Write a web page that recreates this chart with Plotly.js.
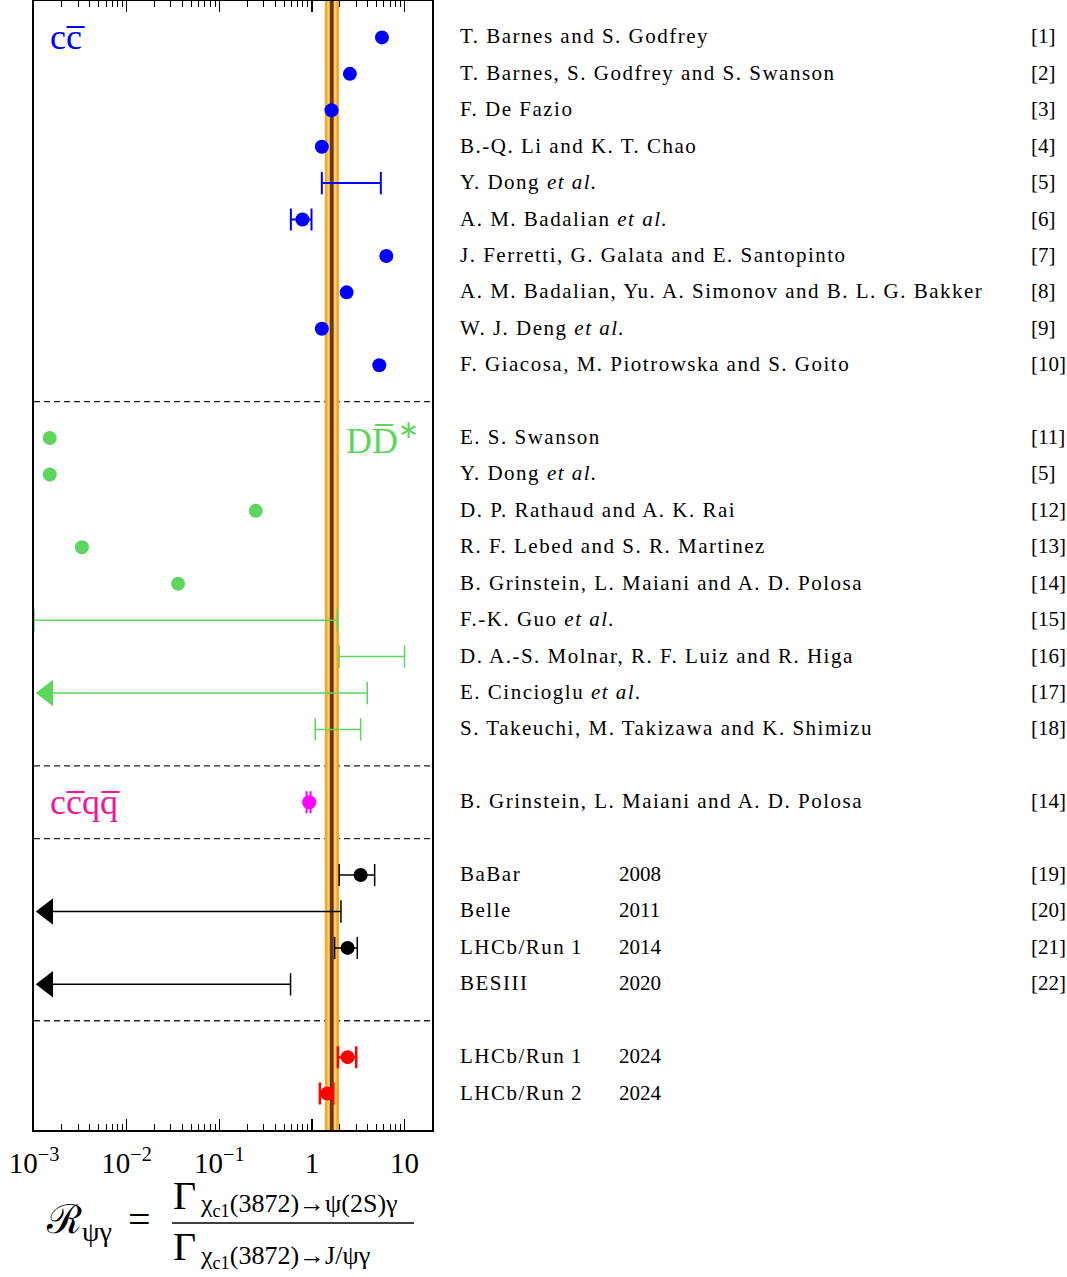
<!DOCTYPE html>
<html><head><meta charset="utf-8">
<script src="https://cdn.plot.ly/plotly-3.0.1.min.js"></script>
<style>body{margin:0;background:#fff}</style>
</head><body><div id="chart" style="width:1067px;height:1277px"></div>
<script>
// ---------------- DATA ----------------
// Theory: charmonium (c c-bar)
const ccAuthors = ["T. Barnes and S. Godfrey","T. Barnes, S. Godfrey and S. Swanson","F. De Fazio","B.-Q. Li and K. T. Chao","Y. Dong <i>et al.</i>","A. M. Badalian <i>et al.</i>","J. Ferretti, G. Galata and E. Santopinto","A. M. Badalian, Yu. A. Simonov and B. L. G. Bakker","W. J. Deng <i>et al.</i>","F. Giacosa, M. Piotrowska and S. Goito"];
const ccRefs = ["[1]","[2]","[3]","[4]","[5]","[6]","[7]","[8]","[9]","[10]"];
const ccValue = [5.71, 2.57, 1.63, 1.28, null, 0.79, 6.36, 2.37, 1.28, 5.34];
const ccLow   = [null, null, null, null, 1.28, 0.593, null, null, null, null];
const ccHigh  = [null, null, null, null, 5.55, 0.99, null, null, null, null];
const ccLimit = [false,false,false,false,false,false,false,false,false,false];

// Theory: D D-bar* molecule
const ddAuthors = ["E. S. Swanson","Y. Dong <i>et al.</i>","D. P. Rathaud and A. K. Rai","R. F. Lebed and S. R. Martinez","B. Grinstein, L. Maiani and A. D. Polosa","F.-K. Guo <i>et al.</i>","D. A.-S. Molnar, R. F. Luiz and R. Higa","E. Cincioglu <i>et al.</i>","S. Takeuchi, M. Takizawa and K. Shimizu"];
const ddRefs = ["[11]","[5]","[12]","[13]","[14]","[15]","[16]","[17]","[18]"];
const ddValue = [0.00148, 0.00148, 0.248, 0.00329, 0.0359, null, null, null, null];
const ddLow   = [null, null, null, null, null, 0.001, 1.97, null, 1.086];
const ddHigh  = [null, null, null, null, null, 1.88, 10.0, 3.96, 3.36];
const ddLimit = [false,false,false,false,false,false,false,true,false];

// Theory: tetraquark
const tqAuthors = ["B. Grinstein, L. Maiani and A. D. Polosa"];
const tqRefs = ["[14]"];
const tqValue = [0.935];
const tqLow   = [0.876];
const tqHigh  = [0.968];
const tqLimit = [false];

// Experiments
const expNames = ["BaBar","Belle","LHCb/Run\u20091","BESIII"];
const expYears = ["2008","2011","2014","2020"];
const expRefs  = ["[19]","[20]","[21]","[22]"];
const expValue = [3.36, null, 2.43, null];
const expLow   = [1.97, null, 1.76, null];
const expHigh  = [4.76, 2.06, 3.09, 0.588];
const expLimit = [false, true, false, true];

// This measurement
const newNames = ["LHCb/Run\u20091","LHCb/Run\u20092"];
const newYears = ["2024","2024"];
const newRefs  = ["",""];
const newValue = [2.43, 1.46];
const newLow   = [1.91, 1.22];
const newHigh  = [3.01, 1.70];
const newLimit = [false, false];

// Combined average band
const bandOuter = [1.38, 1.96];
const bandInner = [1.47, 1.84];
const bandCore  = [1.56, 1.72];

// Axis
const xMin = 0.001, xMax = 19.8;
const tickVals = [0.001, 0.01, 0.1, 1, 10];
const tickText = ["10<sup>\u22123</sup>","10<sup>\u22122</sup>","10<sup>\u22121</sup>","1","10"];

// ---------------- BUILD ----------------
const W = 1067, H = 1277, mL = 34, mR = 635, mT = 1, mB = 147;
const plotW = W - mL - mR;
const pxPerDec = plotW / (Math.log10(xMax) - Math.log10(xMin));
const serif = "Liberation Serif, Times New Roman, serif";

const groups = [
  {label:"cc\u0305", labelColor:"#0000FF", labelX:1.416e-3, color:"#0000FF", lw:2, names:ccAuthors, years:null, refs:ccRefs, v:ccValue, lo:ccLow, hi:ccHigh, lim:ccLimit},
  {label:"DD\u0305<sup>\u2217</sup>", labelColor:"#5CD65C", labelX:2.22, color:"#5CD65C", lw:1.5, names:ddAuthors, years:null, refs:ddRefs, v:ddValue, lo:ddLow, hi:ddHigh, lim:ddLimit},
  {label:"cc\u0305qq\u0305", labelColor:"#F0179A", labelX:1.416e-3, color:"#FF00FF", lw:2, names:tqAuthors, years:null, refs:tqRefs, v:tqValue, lo:tqLow, hi:tqHigh, lim:tqLimit},
  {label:null, color:"#000000", lw:1.5, names:expNames, years:expYears, refs:expRefs, v:expValue, lo:expLow, hi:expHigh, lim:expLimit},
  {label:null, color:"#FF0000", lw:2.5, names:newNames, years:newYears, refs:newRefs, v:newValue, lo:newLow, hi:newHigh, lim:newLimit}
];

let row = 0;
const sepRows = [];
groups.forEach((g, gi) => {
  if (gi > 0) { sepRows.push(row); row++; }
  g.rows = g.names.map((_, i) => row + i);
  row += g.names.length;
});
const yRange = [row, -1];

const traces = [];
function bandTrace(b, color) {
  return {x:[b[0], b[1], b[1], b[0], b[0]], y:[yRange[0], yRange[0], yRange[1], yRange[1], yRange[0]],
    mode:"lines", fill:"toself", fillcolor:color, line:{width:0}, hoverinfo:"skip", showlegend:false};
}
traces.push(bandTrace(bandOuter, "#F9A620"));
traces.push(bandTrace(bandInner, "#FCCB74"));
traces.push(bandTrace(bandCore, "#6B3A0C"));

const CAP = 11, MS = 14, TRI = 23;
const triCenter = xMin * Math.pow(10, (TRI/2 * 2/Math.sqrt(3)) / pxPerDec);

groups.forEach(g => {
  const plain = {x:[], y:[]}, err = {x:[], y:[], p:[], m:[]}, rng = {x:[], y:[]}, lim = {x:[], y:[]}, tri = {x:[], y:[]}, cap = {x:[], y:[]};
  g.rows.forEach((r, i) => {
    const v = g.v[i], lo = g.lo[i], hi = g.hi[i];
    if (g.lim[i]) { lim.x.push(triCenter, hi, null); lim.y.push(r, r, null); tri.x.push(triCenter); tri.y.push(r); cap.x.push(hi); cap.y.push(r); }
    else if (v === null) { rng.x.push(lo, hi, null); rng.y.push(r, r, null); }
    else if (lo === null && hi === null) { plain.x.push(v); plain.y.push(r); }
    else { err.x.push(v); err.y.push(r); err.p.push(hi - v); err.m.push(v - lo); }
  });
  if (rng.x.length) traces.push({x:rng.x, y:rng.y, mode:"lines+markers", cliponaxis:false,
    line:{color:g.color, width:g.lw}, marker:{symbol:"line-ns-open", size:16, color:g.color, line:{color:g.color, width:g.lw}}, showlegend:false});
  if (lim.x.length) {
    traces.push({x:lim.x, y:lim.y, mode:"lines", line:{color:g.color, width:g.lw}, showlegend:false});
    traces.push({x:cap.x, y:cap.y, mode:"markers", cliponaxis:false,
      marker:{symbol:"line-ns-open", size:16, color:g.color, line:{color:g.color, width:g.lw}}, showlegend:false});
    traces.push({x:tri.x, y:tri.y, mode:"markers", cliponaxis:false,
      marker:{symbol:"triangle-left", size:TRI, color:g.color, opacity:1, line:{width:0}}, showlegend:false});
  }
  if (err.x.length) traces.push({x:err.x, y:err.y, mode:"markers", cliponaxis:false,
    error_x:{type:"data", symmetric:false, array:err.p, arrayminus:err.m, color:g.color, thickness:g.lw, width:CAP},
    marker:{symbol:"circle", size:MS, color:g.color}, showlegend:false});
  if (plain.x.length) traces.push({x:plain.x, y:plain.y, mode:"markers", cliponaxis:false,
    marker:{symbol:"circle", size:MS, color:g.color}, showlegend:false});
});

// ---------------- ANNOTATIONS ----------------
const annotations = [];
const spacedIdx = new Set();
const px2paperX = px => (px - mL) / plotW;
const plotH = H - mT - mB;
const px2paperY = py => (H - mB - py) / plotH;
const txtFont = {family:serif, size:21, color:"#000"};
groups.forEach(g => {
  g.rows.forEach((r, i) => {
    spacedIdx.add(annotations.length);
    annotations.push({xref:"paper", yref:"y", x:px2paperX(458), y:r, yshift:1, xanchor:"left", yanchor:"middle", text:g.names[i], showarrow:false, font:txtFont});
    if (g.years) annotations.push({xref:"paper", yref:"y", x:px2paperX(617), y:r, yshift:1, xanchor:"left", yanchor:"middle", text:g.years[i], showarrow:false, font:txtFont});
    if (g.refs[i]) annotations.push({xref:"paper", yref:"y", x:px2paperX(1029), y:r, yshift:1, xanchor:"left", yanchor:"middle", text:g.refs[i], showarrow:false, font:txtFont});
  });
});
groups.forEach(g => {
  if (g.label) annotations.push({xref:"x", yref:"y", x:Math.log10(g.labelX), y:g.rows[0], xanchor:"left", yanchor:"middle", text:g.label, showarrow:false, font:{family:serif, size:36, color:g.labelColor}});
});

// x-axis title: R_{psi gamma} = Gamma(...)/Gamma(...)
annotations.push({xref:"paper", yref:"paper", x:px2paperX(44), y:px2paperY(1222), xanchor:"left", yanchor:"middle", text:"\u211B<sub>\u03C8\u03B3</sub>\u2009\u2009=", showarrow:false, font:{family:serif, size:40, color:"#000"}});
annotations.push({xref:"paper", yref:"paper", x:px2paperX(171), y:px2paperY(1195), xanchor:"left", yanchor:"middle", text:"\u0393", showarrow:false, font:{family:serif, size:40, color:"#000"}});
annotations.push({xref:"paper", yref:"paper", x:px2paperX(198), y:px2paperY(1205), xanchor:"left", yanchor:"middle", text:"\u03C7<sub>c1</sub>(3872)\u2192\u03C8(2S)\u03B3", showarrow:false, font:{family:serif, size:26, color:"#000"}});
annotations.push({xref:"paper", yref:"paper", x:px2paperX(171), y:px2paperY(1246), xanchor:"left", yanchor:"middle", text:"\u0393", showarrow:false, font:{family:serif, size:40, color:"#000"}});
annotations.push({xref:"paper", yref:"paper", x:px2paperX(198), y:px2paperY(1257), xanchor:"left", yanchor:"middle", text:"\u03C7<sub>c1</sub>(3872)\u2192J/\u03C8\u03B3", showarrow:false, font:{family:serif, size:26, color:"#000"}});

const shapes = sepRows.map(r => ({type:"line", xref:"paper", yref:"y", x0:0, x1:1, y0:r, y1:r, layer:"below", line:{color:"#222", width:1.3, dash:"6px,4px"}}));
shapes.push({type:"line", xref:"paper", yref:"paper", x0:px2paperX(172), x1:px2paperX(414), y0:px2paperY(1223), y1:px2paperY(1223), line:{color:"#000", width:1.5}});

const layout = {
  width:W, height:H, margin:{l:mL, r:mR, t:mT, b:mB}, paper_bgcolor:"#fff", plot_bgcolor:"#fff", showlegend:false,
  font:{family:serif, color:"#000"},
  xaxis:{type:"log", range:[Math.log10(xMin), Math.log10(xMax)], autorange:false, tickmode:"array", tickvals:tickVals, ticktext:tickText,
    ticks:"inside", ticklen:11, tickwidth:1.5, tickcolor:"#000", showline:true, linecolor:"#000", linewidth:2, mirror:"allticks",
    showgrid:false, zeroline:false, tickfont:{family:serif, size:29, color:"#000"}, ticklabelstandoff:6,
    minor:{ticks:"inside", ticklen:6, tickwidth:1, tickcolor:"#000", dtick:"D1", showgrid:false}},
  yaxis:{range:yRange, autorange:false, showticklabels:false, ticks:"", showgrid:false, zeroline:false, showline:true, linecolor:"#000", linewidth:2, mirror:true},
  annotations:annotations, shapes:shapes
};
Plotly.newPlot("chart", traces, layout, {staticPlot:true}).then(gd => {
  // widen the author names slightly (Computer Modern is wider than Times), keeping the left edge fixed
  gd.querySelectorAll(".annotation").forEach(n => {
    const idx = +n.getAttribute("data-index");
    if (!spacedIdx.has(idx)) return;
    const t = n.querySelector("text.annotation-text");
    if (!t) return;
    const b0 = t.getBBox();
    t.style.letterSpacing = "1.5px";
    const b1 = t.getBBox();
    const dx = b0.x - b1.x;
    const prev = t.getAttribute("transform") || "";
    t.setAttribute("transform", "translate(" + dx + ",0) " + prev);
  });
});
</script></body></html>
